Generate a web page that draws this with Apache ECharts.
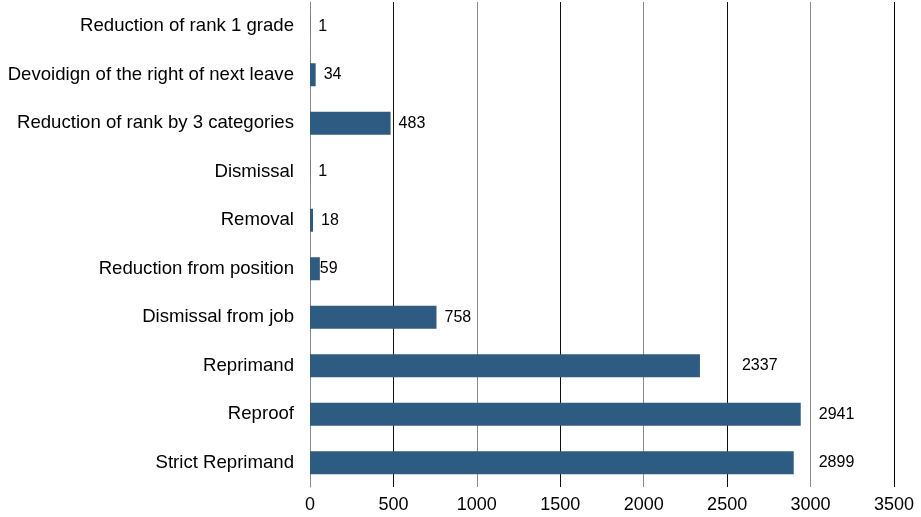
<!DOCTYPE html>
<html>
<head>
<meta charset="utf-8">
<script src="https://cdn.jsdelivr.net/npm/echarts@6/dist/echarts.min.js"></script>
<style>html,body{margin:0;padding:0;background:#fff;}#c{width:921px;height:517px;}</style>
</head>
<body>
<div id="c"></div>
<script>
const categories = ["Reduction of rank 1 grade","Devoidign of the right of next leave","Reduction of rank by 3 categories","Dismissal","Removal","Reduction from position","Dismissal from job","Reprimand","Reproof","Strict Reprimand"];
const values = [1, 34, 483, 1, 18, 59, 758, 2337, 2941, 2899];
const xTicks = [0, 500, 1000, 1500, 2000, 2500, 3000, 3500];

const labelOffsets = [0, 0, 0, 0, 0, -8, 0, 34, 10, 17];
const chart = echarts.init(document.getElementById('c'));
chart.setOption({
  animation: false,
  grid: {left: 310, right: 27, top: 2, bottom: 30},
  xAxis: {
    type: 'value', min: xTicks[0], max: xTicks[xTicks.length-1], interval: 500,
    axisLine: {show: false}, axisTick: {show: false},
    axisLabel: {color: '#000', fontSize: 18, fontFamily: 'Liberation Sans, Arial', margin: 9,
      formatter: v => String(v)},
    splitLine: {show: true, showMaxLine: true, lineStyle: {color: ['#8a8a8a', '#111111', '#8a8a8a', '#111111', '#8a8a8a', '#111111', '#8a8a8a', '#000000'], width: 1}}
  },
  yAxis: {
    type: 'category', data: categories, inverse: true,
    axisLine: {show: true, lineStyle: {color: '#8a8a8a', width: 1}},
    axisTick: {show: false},
    axisLabel: {color: '#000', fontSize: 18.6, fontFamily: 'Liberation Sans, Arial', margin: 16}
  },
  series: [{
    type: 'bar', barWidth: 23,
    itemStyle: {color: '#2e5b82'},
    data: values.map((v, i) => ({value: v, label: {offset: [labelOffsets[i], 0]}})),
    label: {show: true, position: 'right', distance: 8, color: '#000', fontSize: 16, fontFamily: 'Liberation Sans, Arial'}
  }]
});
</script>
</body>
</html>
